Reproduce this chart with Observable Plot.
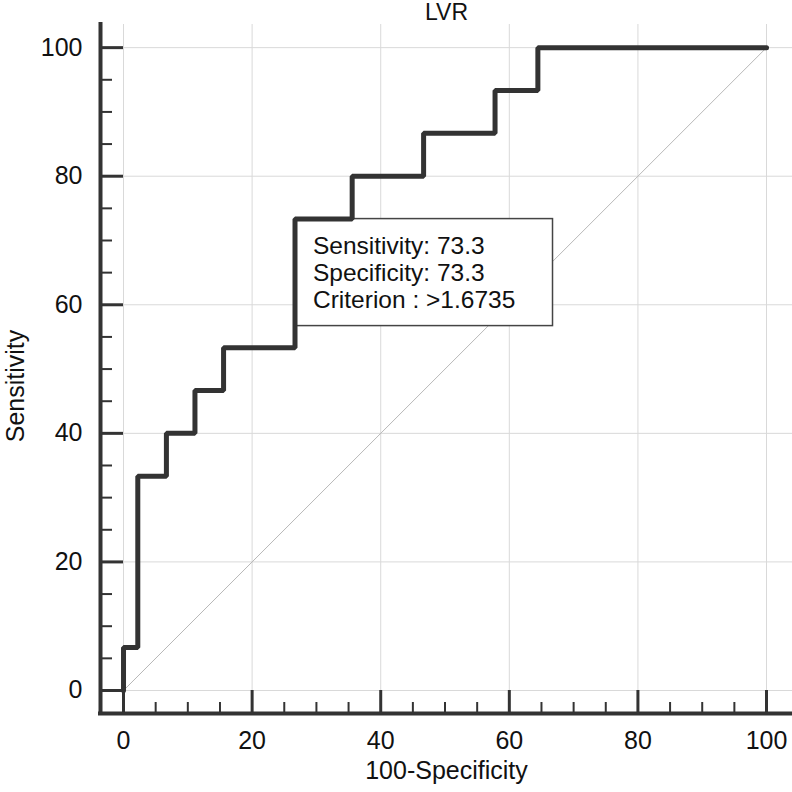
<!DOCTYPE html>
<html>
<head>
<meta charset="utf-8">
<script src="https://cdn.jsdelivr.net/npm/d3@7"></script>
<script src="https://cdn.jsdelivr.net/npm/@observablehq/plot@0.6"></script>
<style>
  body { margin: 0; background: #fff; }
</style>
</head>
<body>
<div id="chart"></div>
<script>
// ROC points: 100-Specificity (x) and Sensitivity (y)
const fpr = [0, 0, 2.22, 6.67, 11.11, 15.56, 26.67, 35.56, 46.67, 57.78, 64.44, 100]
const tpr = [0, 6.67, 33.33, 40, 46.67, 53.33, 73.33, 80, 86.67, 93.33, 100, 100]

// the highlighted cut-off
const critFpr = 26.67
const critTpr = 73.33
const critLines = ['Sensitivity: 73.3', 'Specificity: 73.3', 'Criterion : >1.6735']

const majorTicks = [0, 20, 40, 60, 80, 100]
const minorTicks = [5, 10, 15, 25, 30, 35, 45, 50, 55, 65, 70, 75, 85, 90, 95]
const diagonal = [0, 100]

const xDomain = [-3.58, 104.04]
const yDomain = [-3.58, 103.6]

const roc = fpr.map((x, i) => ({x, y: tpr[i]}))
const crit = [{x: critFpr, y: critTpr, label: critLines.join('\n')}]

const dark = '#333'
const font = 25

let chart = Plot.plot({
  width: 792,
  height: 792,
  marginLeft: 100,
  marginRight: 0,
  marginTop: 24,
  marginBottom: 79,
  x: {domain: xDomain, axis: null},
  y: {domain: yDomain, axis: null},
  style: {
    fontFamily: '"Liberation Sans", Arial, sans-serif',
    background: '#fff',
    color: '#111',
  },
  marks: [
    // grid
    Plot.ruleY(majorTicks, {x1: 0, x2: xDomain[1], stroke: '#d9d9d9', strokeWidth: 1}),
    Plot.ruleX(majorTicks, {y1: 0, y2: yDomain[1], stroke: '#d9d9d9', strokeWidth: 1}),
    // reference diagonal
    Plot.line(diagonal, {x: d => d, y: d => d, stroke: '#b8b8b8', strokeWidth: 1}),
    // criterion box
    Plot.rect(crit, {
      x1: 'x', x2: 'x', y1: 'y', y2: 'y',
      insetRight: -258, insetBottom: -107,
      fill: '#fff', stroke: '#444', strokeWidth: 1.5,
    }),
    Plot.text(crit, {
      x: 'x', y: 'y', text: 'label',
      textAnchor: 'start', lineAnchor: 'top', lineHeight: 1.12,
      dx: 18, dy: 15, fontSize: 24.5, fill: '#111',
    }),
    // ROC curve
    Plot.line(roc, {x: 'x', y: 'y', curve: 'step-after', stroke: dark, strokeWidth: 5, strokeLinejoin: 'miter'}),
    // ticks
    Plot.ruleY(majorTicks, {x1: xDomain[0], x2: 0, stroke: dark, strokeWidth: 3}),
    Plot.tickY(minorTicks, {y: d => d, insetRight: 692 - 12, stroke: dark, strokeWidth: 2}),
    Plot.ruleX(majorTicks, {y1: yDomain[0], y2: 0, stroke: dark, strokeWidth: 3}),
    Plot.tickX(minorTicks, {x: d => d, insetTop: 689 - 11, stroke: dark, strokeWidth: 2}),
    // axis lines
    Plot.ruleX([xDomain[0]], {y1: yDomain[0], y2: yDomain[1], stroke: dark, strokeWidth: 4, strokeLinecap: 'square'}),
    Plot.ruleY([yDomain[0]], {x1: xDomain[0], x2: xDomain[1], stroke: dark, strokeWidth: 4, strokeLinecap: 'square'}),
    // tick labels
    Plot.text(majorTicks, {x: xDomain[0], y: d => d, text: d => d, textAnchor: 'end', dx: -18, fontSize: font, fill: '#111'}),
    Plot.text(majorTicks, {x: d => d, y: yDomain[0], text: d => d, lineAnchor: 'bottom', dy: 35, fontSize: font, fill: '#111'}),
    // titles
    Plot.text(['LVR'], {text: d => d, frameAnchor: 'top', textAnchor: 'middle', lineAnchor: 'bottom', dy: -5, fontSize: 23, fill: '#111'}),
    Plot.text(['100-Specificity'], {text: d => d, frameAnchor: 'bottom', textAnchor: 'middle', lineAnchor: 'bottom', dy: 65, fontSize: font, fill: '#111'}),
    Plot.text(['Sensitivity'], {text: d => d, frameAnchor: 'left', textAnchor: 'middle', rotate: -90, lineAnchor: 'bottom', dx: -77, dy: 17, fontSize: font, fill: '#111'}),
  ],
})
d3.select('#chart').append(() => chart)
</script>
</body>
</html>
